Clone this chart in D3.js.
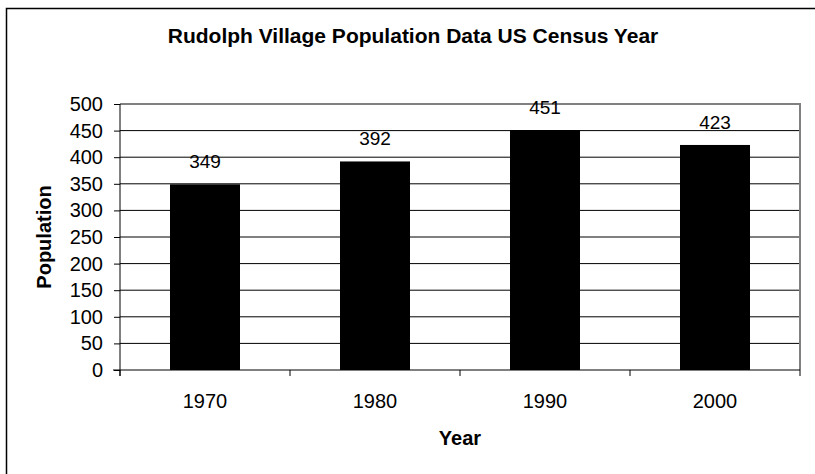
<!DOCTYPE html>
<html>
<head>
<meta charset="utf-8">
<script src="https://cdn.jsdelivr.net/npm/d3@7"></script>
<style>
  html, body { margin: 0; padding: 0; background: #fff; }
  svg { display: block; font-family: Arial, "Liberation Sans", sans-serif; }
</style>
</head>
<body>
<svg id="chart" width="815" height="474"></svg>
<script>
// Census years and village population counts
const years = ["1970", "1980", "1990", "2000"];
const population = [349, 392, 451, 423];
const yTicks = [0, 50, 100, 150, 200, 250, 300, 350, 400, 450, 500];

const chartTitle = "Rudolph Village Population Data US Census Year";
const xTitle = "Year";
const yTitle = "Population";

const svg = d3.select("#chart");
const plot = { left: 120, right: 800, top: 104, bottom: 370 };

// Outer chart frame
svg.append("rect")
  .attr("x", 6.5).attr("y", 8.5)
  .attr("width", 900).attr("height", 900)
  .attr("fill", "none").attr("stroke", "#000").attr("stroke-width", 1.5);

const x = d3.scaleBand()
  .domain(years)
  .range([plot.left, plot.right])
  .paddingInner(70 / 170 * 1.4)
  .paddingOuter(0);

// Band scale gives bar positions; category ticks sit on the band boundaries
const xCat = d3.scaleBand().domain(years).range([plot.left, plot.right]).padding(0);
const barWidth = 70;

const y = d3.scaleLinear().domain([0, 500]).range([plot.bottom, plot.top]);

// Horizontal gridlines
svg.append("g")
  .selectAll("line")
  .data(yTicks.filter(t => t > 0 && t < 500))
  .join("line")
  .attr("x1", plot.left).attr("x2", plot.right)
  .attr("y1", d => y(d)).attr("y2", d => y(d))
  .attr("stroke", "#000").attr("stroke-width", 1);

// Plot area border (top and right)
svg.append("path")
  .attr("d", `M${plot.left},${y(500)}H${plot.right}V${plot.bottom}`)
  .attr("fill", "none").attr("stroke", "#808080").attr("stroke-width", 2);

// Bars
svg.append("g")
  .selectAll("rect")
  .data(years.map((yr, i) => ({ yr, v: population[i] })))
  .join("rect")
  .attr("x", d => xCat(d.yr) + xCat.bandwidth() / 2 - barWidth / 2)
  .attr("width", barWidth)
  .attr("y", d => y(d.v))
  .attr("height", d => y(0) - y(d.v))
  .attr("fill", "#000");

// Value labels above bars
svg.append("g")
  .selectAll("text")
  .data(years.map((yr, i) => ({ yr, v: population[i] })))
  .join("text")
  .attr("x", d => xCat(d.yr) + xCat.bandwidth() / 2)
  .attr("y", d => y(d.v) - 16)
  .attr("text-anchor", "middle")
  .attr("font-size", 19)
  .attr("fill", "#000")
  .text(d => d.v);

// Y axis
const yAxis = d3.axisLeft(y).tickValues(yTicks).tickSize(6).tickPadding(11);
const gy = svg.append("g")
  .attr("transform", `translate(${plot.left},0)`)
  .call(yAxis);
gy.select(".domain").attr("d", `M0,${y(500)}V${plot.bottom + 6}`).attr("stroke", "#000");
gy.selectAll(".tick line").attr("stroke", "#000");
gy.selectAll(".tick text")
  .attr("font-size", 20)
  .attr("font-family", "Arial, 'Liberation Sans', sans-serif")
  .attr("fill", "#000");

// X axis with ticks at category boundaries
const gx = svg.append("g").attr("transform", `translate(0,${plot.bottom})`);
gx.append("line")
  .attr("x1", plot.left - 7).attr("x2", plot.right)
  .attr("stroke", "#000").attr("stroke-width", 1);
const boundaries = years.map(d => xCat(d)).concat([xCat(years[years.length - 1]) + xCat.bandwidth()]);
gx.selectAll("line.tk")
  .data(boundaries)
  .join("line")
  .attr("class", "tk")
  .attr("x1", d => d).attr("x2", d => d)
  .attr("y1", 0).attr("y2", 6)
  .attr("stroke", "#000");
gx.selectAll("text")
  .data(years)
  .join("text")
  .attr("x", d => xCat(d) + xCat.bandwidth() / 2)
  .attr("y", 38)
  .attr("text-anchor", "middle")
  .attr("font-size", 20)
  .attr("fill", "#000")
  .text(d => d);

// Titles
svg.append("text")
  .attr("x", 413).attr("y", 43)
  .attr("text-anchor", "middle")
  .attr("font-size", 21).attr("font-weight", "bold")
  .text(chartTitle);

svg.append("text")
  .attr("x", 460).attr("y", 445)
  .attr("text-anchor", "middle")
  .attr("font-size", 20).attr("font-weight", "bold")
  .text(xTitle);

svg.append("text")
  .attr("transform", `translate(51,${(plot.top + plot.bottom) / 2}) rotate(-90)`)
  .attr("text-anchor", "middle")
  .attr("font-size", 20).attr("font-weight", "bold")
  .text(yTitle);
</script>
</body>
</html>
